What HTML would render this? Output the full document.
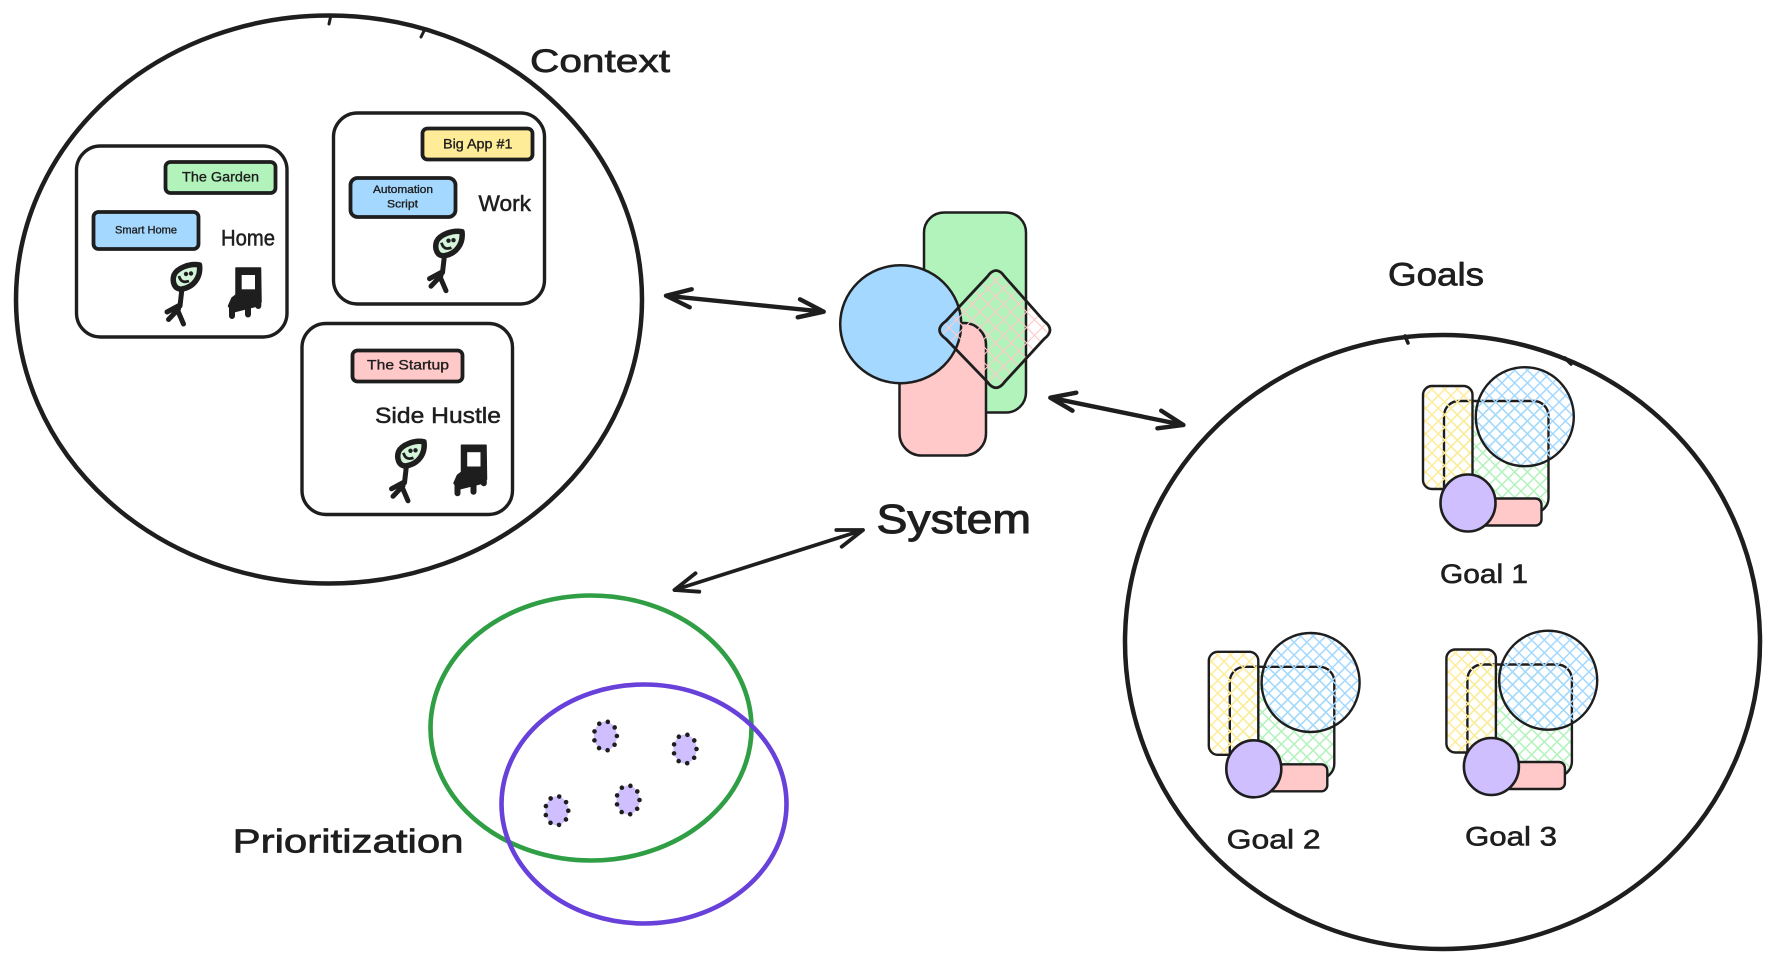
<!DOCTYPE html>
<html>
<head>
<meta charset="utf-8">
<style>
html,body{margin:0;padding:0;background:#fff;width:1776px;height:965px;overflow:hidden}
svg{display:block}
text{font-family:"Liberation Sans",sans-serif;fill:#1e1e1e;stroke:#1e1e1e;stroke-width:.35}
</style>
</head>
<body>
<svg width="1776" height="965" viewBox="0 0 1776 965" xmlns="http://www.w3.org/2000/svg">
<defs>
<pattern id="hb" patternUnits="userSpaceOnUse" width="9" height="9" patternTransform="rotate(45)"><path d="M0 0H9M0 0V9" stroke="#a5d8ff" stroke-width="3" fill="none"/></pattern>
<pattern id="hg" patternUnits="userSpaceOnUse" width="9" height="9" patternTransform="rotate(45)"><path d="M0 0H9M0 0V9" stroke="#b2f2bb" stroke-width="3" fill="none"/></pattern>
<pattern id="hy" patternUnits="userSpaceOnUse" width="9" height="9" patternTransform="rotate(45)"><path d="M0 0H9M0 0V9" stroke="#ffec99" stroke-width="3" fill="none"/></pattern>
<pattern id="hp" patternUnits="userSpaceOnUse" width="11" height="11" patternTransform="rotate(45)"><path d="M0 0H11M0 0V11" stroke="#ffc9c9" stroke-width="2.2" fill="none"/></pattern>

<g id="person">
<path d="M199.5,265 C201,277 194,287 182,289 C174,290 172,281 174,275 C177,268 190,263 199.5,265 Z" fill="#d5f5da" stroke="#1e1e1e" stroke-width="5.5" stroke-linejoin="round"/>
<circle cx="186" cy="274" r="2.2" fill="#1e1e1e"/><circle cx="191" cy="273.5" r="2.2" fill="#1e1e1e"/>
<path d="M179,276 q2,8 10,5" fill="none" stroke="#1e1e1e" stroke-width="2.8"/>
<path d="M181.7,291 L180,306 M180,305 L167,312 M178.5,309 L168.5,319.5 M177.5,310 L183.5,324" fill="none" stroke="#1e1e1e" stroke-width="5" stroke-linecap="round"/>
</g>
<g id="chair">
<path d="M236,268 H260.5 L261,302 L257,306 L233,312 L228.5,306 L232,298 L236,295 Z" fill="#1e1e1e" stroke="#1e1e1e" stroke-width="1.5" stroke-linejoin="round"/>
<rect x="241.7" y="275" width="13.3" height="14.3" fill="#fff"/>
<path d="M232,308 V316 M248,308 V314.5 M258.3,300 V306" fill="none" stroke="#1e1e1e" stroke-width="6" stroke-linecap="round"/>
</g>
<g id="goal">
<rect x="1444" y="401" width="104.5" height="112" rx="15" fill="url(#hg)"/>
<rect x="1444" y="401" width="104.5" height="112" rx="15" fill="none" stroke="#1e1e1e" stroke-width="2.4"/>
<rect x="1423" y="386" width="49.5" height="103" rx="9" fill="url(#hy)"/>
<rect x="1423" y="386" width="49.5" height="103" rx="9" fill="none" stroke="#1e1e1e" stroke-width="2.4"/>
<rect x="1478" y="498.5" width="63.5" height="27" rx="6" fill="#ffc9c9" stroke="#1e1e1e" stroke-width="2.4"/>
<ellipse cx="1524.8" cy="416.7" rx="49" ry="49.5" fill="url(#hb)"/>
<ellipse cx="1524.8" cy="416.7" rx="49" ry="49.5" fill="none" stroke="#1e1e1e" stroke-width="2.4"/>
<ellipse cx="1468" cy="503" rx="27.5" ry="28.5" fill="#d0bfff" stroke="#1e1e1e" stroke-width="2.6"/>
</g>
<g id="dot">
<ellipse cx="0" cy="0" rx="11.5" ry="14.5" fill="#d0bfff" stroke="#1e1e1e" stroke-width="4.6" stroke-linecap="round" stroke-dasharray="0 9.1"/>
</g>
</defs>

<rect width="1776" height="965" fill="#fff"/>

<!-- Context -->
<g fill="none" stroke="#1e1e1e" stroke-width="4.5">
<ellipse cx="329" cy="299.5" rx="313" ry="284"/>
<path d="M331,15 L329,24 M424,31 L421,37" stroke-width="3" stroke-linecap="round"/>
</g>
<text x="530" y="72" font-size="32" textLength="140" lengthAdjust="spacingAndGlyphs" style="stroke-width:.7">Context</text>

<g fill="none" stroke="#1e1e1e" stroke-width="3.4">
<rect x="76.5" y="146" width="210.5" height="191" rx="24"/>
<rect x="333.5" y="113" width="211" height="191" rx="24"/>
<rect x="302" y="323.5" width="210.5" height="191" rx="24"/>
</g>
<g stroke="#1e1e1e" stroke-width="3.8">
<rect x="165.5" y="162" width="110" height="31" rx="5" fill="#b2f2bb"/>
<rect x="93.5" y="212" width="105" height="37" rx="5" fill="#a5d8ff"/>
<rect x="422.5" y="128.5" width="110" height="31" rx="5" fill="#ffec99"/>
<rect x="350.5" y="178" width="105" height="39" rx="7" fill="#a5d8ff"/>
<rect x="352.5" y="350.5" width="110" height="31" rx="5" fill="#ffc9c9"/>
</g>
<text x="182" y="181.4" font-size="14" textLength="77" lengthAdjust="spacingAndGlyphs">The Garden</text>
<text x="115" y="233.5" font-size="11" textLength="62" lengthAdjust="spacingAndGlyphs">Smart Home</text>
<text x="443" y="148.5" font-size="14" textLength="69.5" lengthAdjust="spacingAndGlyphs">Big App #1</text>
<text x="373" y="193" font-size="11" textLength="60" lengthAdjust="spacingAndGlyphs">Automation</text>
<text x="387" y="207.5" font-size="11" textLength="31" lengthAdjust="spacingAndGlyphs">Script</text>
<text x="367" y="369.3" font-size="14" textLength="82" lengthAdjust="spacingAndGlyphs">The Startup</text>
<text x="221" y="245.7" font-size="22" textLength="54" lengthAdjust="spacingAndGlyphs" style="stroke-width:.5">Home</text>
<text x="478.5" y="211" font-size="22" textLength="52.5" lengthAdjust="spacingAndGlyphs" style="stroke-width:.5">Work</text>
<text x="375" y="423" font-size="22" textLength="126" lengthAdjust="spacingAndGlyphs" style="stroke-width:.5">Side Hustle</text>

<use href="#person"/>
<use href="#person" transform="translate(262.5,-33.3)"/>
<use href="#person" transform="translate(224.5,176.8)"/>
<use href="#chair"/>
<use href="#chair" transform="translate(225.5,177.2)"/>

<!-- System -->
<g stroke="#1e1e1e" stroke-width="2.5">
<rect x="924" y="212.5" width="102" height="200" rx="20" fill="#b2f2bb"/>
<rect x="899.5" y="323" width="86.5" height="132.5" rx="22" fill="#ffc9c9"/>
<ellipse cx="900.7" cy="324.2" rx="60.5" ry="59" fill="#a5d8ff"/>
</g>
<path d="M1005,277 L1044,321 Q1056,330 1044,339 L1005,381.5 Q996,394 987,381.5 L946,339 Q933,330 946,321 L987,277 Q996,264 1005,277 Z" fill="url(#hp)"/>
<path d="M1005,277 L1044,321 Q1056,330 1044,339 L1005,381.5 Q996,394 987,381.5 L946,339 Q933,330 946,321 L987,277 Q996,264 1005,277 Z" fill="none" stroke="#1e1e1e" stroke-width="2.8"/>
<text x="876.5" y="533" font-size="41" textLength="154.5" lengthAdjust="spacingAndGlyphs" style="stroke-width:1">System</text>

<!-- Arrows -->
<g fill="none" stroke="#1e1e1e" stroke-linecap="round" stroke-linejoin="round">
<path stroke-width="4.4" d="M666,295.7 L823.7,311.7 M691.7,289.3 L666,295.7 L689.7,307.3 M800,299.3 L823.7,311.7 L797.7,317.3"/>
<path stroke-width="4.4" d="M1050.3,397.7 L1183.4,425 M1076.3,392.7 L1050.3,397.7 L1072.5,410.7 M1161.2,410.7 L1183.4,425 L1157.4,428.3"/>
<path stroke-width="3.8" d="M674.4,590 L863,530 M695.5,573.3 L674.4,590 L699.3,591.7 M836.3,530 L863,530 L841.7,546.7"/>
</g>

<!-- Goals -->
<text x="1388" y="285.3" font-size="32" textLength="96" lengthAdjust="spacingAndGlyphs" style="stroke-width:.7">Goals</text>
<g fill="none" stroke="#1e1e1e" stroke-width="4.5">
<ellipse cx="1442.5" cy="642" rx="317.5" ry="307"/>
<path d="M1405,336 L1408,343 M1565,358 L1571,364" stroke-width="3.5" stroke-linecap="round"/>
</g>
<use href="#goal"/>
<use href="#goal" transform="translate(-214.2,265.8)"/>
<use href="#goal" transform="translate(23.4,263.5)"/>
<text x="1440" y="583" font-size="27" textLength="88" lengthAdjust="spacingAndGlyphs" style="stroke-width:.6">Goal 1</text>
<text x="1226.7" y="848.4" font-size="27" textLength="94" lengthAdjust="spacingAndGlyphs" style="stroke-width:.6">Goal 2</text>
<text x="1465" y="845.6" font-size="27" textLength="92" lengthAdjust="spacingAndGlyphs" style="stroke-width:.6">Goal 3</text>

<!-- Prioritization -->
<ellipse cx="591" cy="728" rx="160.5" ry="132.5" fill="none" stroke="#2f9e44" stroke-width="4.6"/>
<ellipse cx="644" cy="804" rx="142.5" ry="119.5" fill="none" stroke="#6741d9" stroke-width="4.6"/>
<use href="#dot" transform="translate(605.4,736)"/>
<use href="#dot" transform="translate(685,749)"/>
<use href="#dot" transform="translate(628,800)"/>
<use href="#dot" transform="translate(556.8,810.7)"/>
<text x="232.6" y="852.7" font-size="33" textLength="231" lengthAdjust="spacingAndGlyphs" style="stroke-width:.7">Prioritization</text>
</svg>
</body>
</html>
